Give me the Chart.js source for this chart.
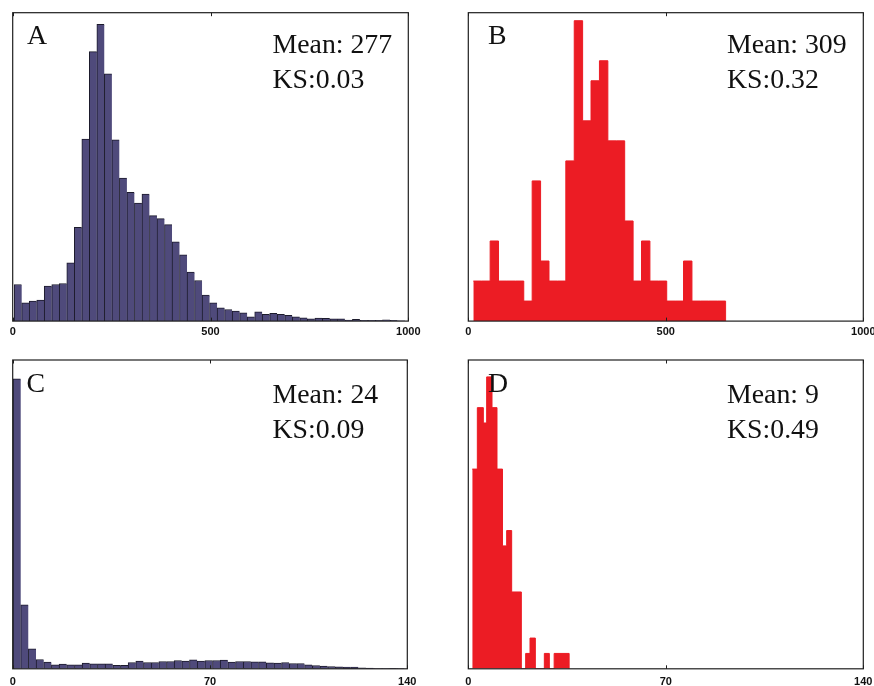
<!DOCTYPE html>
<html><head><meta charset="utf-8">
<script src="https://cdn.jsdelivr.net/npm/chart.js@4.4.1/dist/chart.umd.min.js"></script>
<style>
html,body{margin:0;padding:0;background:#fff;width:874px;height:686px;overflow:hidden;position:relative;}
canvas{position:absolute;}
.lbl{position:absolute;font-family:"Liberation Serif","Times New Roman",serif;font-size:27.8px;line-height:27.8px;color:#111;white-space:nowrap;z-index:5;}
</style></head><body>
<canvas id="cA" width="430" height="350" style="left:0;top:0"></canvas>
<canvas id="cB" width="430" height="350" style="left:450px;top:0"></canvas>
<canvas id="cC" width="430" height="350" style="left:0;top:350px"></canvas>
<canvas id="cD" width="430" height="350" style="left:450px;top:350px"></canvas>

<div class="lbl" style="left:27px;top:21.4px">A</div>
<div class="lbl" style="left:272.5px;top:30.1px">Mean: 277</div>
<div class="lbl" style="left:272.5px;top:64.7px">KS:0.03</div>

<div class="lbl" style="left:488px;top:21.4px">B</div>
<div class="lbl" style="left:727px;top:30.1px">Mean: 309</div>
<div class="lbl" style="left:727px;top:64.7px">KS:0.32</div>

<div class="lbl" style="left:26.5px;top:368.6px">C</div>
<div class="lbl" style="left:272.5px;top:380.1px">Mean: 24</div>
<div class="lbl" style="left:272.5px;top:414.7px">KS:0.09</div>

<div class="lbl" style="left:488px;top:369px">D</div>
<div class="lbl" style="left:727px;top:380.1px">Mean: 9</div>
<div class="lbl" style="left:727px;top:414.7px">KS:0.49</div>

<script>
// ---- Panel A (blue histogram) ----
const binCentersA = [13.2,32.2,51.2,70.2,89.2,108.2,127.2,146.2,165.2,184.2,203.2,222.2,241.2,260.2,279.2,298.2,317.2,336.2,355.2,374.2,393.2,412.2,431.2,450.2,469.2,488.2,507.2,526.2,545.2,564.2,583.2,602.2,621.2,640.2,659.2,678.2,697.2,716.2,735.2,754.2,773.2,792.2,811.2,830.2,849.2,868.2,887.2,906.2,925.2,944.2,963.2,982.2];
const countsA = [110,55,60,63,105,110,113,175,282,547,810,892,743,545,430,387,355,382,317,308,290,238,199,147,122,78,55,40,35,30,25,13,28,20,23,20,17,13,10,7,9,8,7,7,3,5,2,2,2,4,2,1];
const yMaxA = 927;
const ticksA = [0,500,1000];

// ---- Panel B (red histogram) ----
const binEdgesB = [12.7,34.0,55.3,76.5,97.8,119.1,140.4,161.7,183.0,204.3,225.6,246.9,268.2,289.4,310.7,332.0,353.3,374.6,395.9,417.2,438.5,459.8,481.1,502.3,523.6,544.9,566.2,587.5,608.8,630.1,651.4];
const countsB = [2,2,4,2,2,2,1,7,3,2,2,8,15,10,12,13,9,9,5,2,4,2,2,1,1,3,1,1,1,1];
const yMaxB = 15.4;
const ticksB = [0,500,1000];

// ---- Panel C (blue histogram) ----
const binCentersC = [1.48,4.20,6.92,9.65,12.37,15.09,17.81,20.53,23.26,25.98,28.70,31.42,34.14,36.87,39.59,42.31,45.03,47.75,50.48,53.20,55.92,58.64,61.36,64.09,66.81,69.53,72.25,74.97,77.70,80.42,83.14,85.86,88.58,91.31,94.03,96.75,99.47,102.19,104.92,107.64,110.36,113.08,115.80,118.53,121.25,123.97,126.69,129.41,132.14,134.86,137.58];
const countsC = [290,64,20,9.3,6.7,4,4.7,4,4,5.7,5,5,5,3.5,3.5,6.3,7.7,6.3,6.3,7.3,7.3,8.3,7.7,9,7.7,8.3,8.3,8.7,6.7,7.3,7.3,7,7,6,5.7,6.3,5.3,5.3,4,3.3,2.7,2.3,2,1.7,1.7,1,0.7,0.3,0.3,0.5,0.2];
const yMaxC = 308.8;
const ticksC = [0,70,140];

// ---- Panel D (red histogram) ----
const binEdgesD = [1.4,3.2,5.33,6.51,8.4,10.17,12.12,13.6,15.37,18.8,20.33,21.87,23.76,26.95,28.72,30.43,35.75];
const countsD = [13,17,16,19,17,13,8,9,5,0,1,2,0,1,0,1];
const yMaxD = 20.1;
const ticksD = [0,70,140];

const BLUE = '#4f4a7b', BLUE_EDGE = '#1c1b2c', RED = '#ec1c24';

const framePlugin = {
  id: 'frame',
  afterDatasetsDraw(chart) {
    const {ctx, chartArea: a, scales: {x}} = chart;
    ctx.save();
    ctx.strokeStyle = '#1e1e1e';
    ctx.lineWidth = 1.2;
    ctx.strokeRect(a.left, a.top, a.right - a.left, a.bottom - a.top);
    ctx.lineWidth = 1;
    x.ticks.forEach(t => {
      const px = Math.round(x.getPixelForValue(t.value)) + 0.5;
      ctx.beginPath();
      ctx.moveTo(px, a.bottom); ctx.lineTo(px, a.bottom - 3.5);
      ctx.moveTo(px, a.top); ctx.lineTo(px, a.top + 3.5);
      ctx.stroke();
    });
    ctx.restore();
  }
};

function xScale(max, tickVals, pad) {
  return {
    type: 'linear', min: 0, max: max, offset: false,
    afterBuildTicks: s => { s.ticks = tickVals.map(v => ({value: v})); },
    grid: {display: false, drawTicks: false, tickLength: 0, offset: false},
    border: {display: false},
    ticks: {
      autoSkip: false, maxRotation: 0, padding: pad, color: '#111',
      callback: v => String(v),
      font: {family: '"Liberation Sans", Arial, sans-serif', size: 11, weight: 'bold', lineHeight: 1.2}
    }
  };
}
function yScale(max) {
  return {display: false, min: 0, max: max};
}
const common = {
  responsive: false, animation: false, devicePixelRatio: 1,
  plugins: {legend: {display: false}, tooltip: {enabled: false}}
};

function blueHist(id, centers, counts, xmax, ymax, tickVals, padding, tpad) {
  new Chart(document.getElementById(id), {
    type: 'bar',
    data: {datasets: [{
      data: centers.map((c, i) => ({x: c, y: counts[i]})),
      backgroundColor: BLUE, borderColor: BLUE_EDGE,
      borderWidth: {left: 1, top: 1, right: 0, bottom: 0}, borderSkipped: false,
      barPercentage: 1, categoryPercentage: 1
    }]},
    options: Object.assign({}, common, {
      layout: {padding: padding},
      scales: {x: xScale(xmax, tickVals, tpad), y: yScale(ymax)}
    }),
    plugins: [framePlugin]
  });
}
function redHist(id, edges, counts, xmax, ymax, tickVals, padding, tpad) {
  const pts = counts.map((c, i) => ({x: edges[i], y: c}));
  pts.push({x: edges[edges.length - 1], y: 0});
  new Chart(document.getElementById(id), {
    type: 'line',
    data: {datasets: [{
      data: pts, stepped: 'before', fill: 'origin',
      backgroundColor: RED, borderColor: RED, borderWidth: 1,
      pointRadius: 0, tension: 0
    }]},
    options: Object.assign({}, common, {
      layout: {padding: padding},
      scales: {x: xScale(xmax, tickVals, tpad), y: yScale(ymax)}
    }),
    plugins: [framePlugin]
  });
}

blueHist('cA', binCentersA, countsA, 1000, yMaxA, ticksA, {left: 12.7, top: 12.7, right: 21.7, bottom: 8.1}, 3.8);
redHist('cB', binEdgesB, countsB, 1000, yMaxB, ticksB, {left: 18.3, top: 12.7, right: 16.7, bottom: 8.1}, 3.8);
blueHist('cC', binCentersC, countsC, 140, yMaxC, ticksC, {left: 12.7, top: 10, right: 22.7, bottom: 4.8}, 6.6);
redHist('cD', binEdgesD, countsD, 140, yMaxD, ticksD, {left: 18.3, top: 10, right: 16.7, bottom: 4.8}, 6.6);
</script>
</body></html>
